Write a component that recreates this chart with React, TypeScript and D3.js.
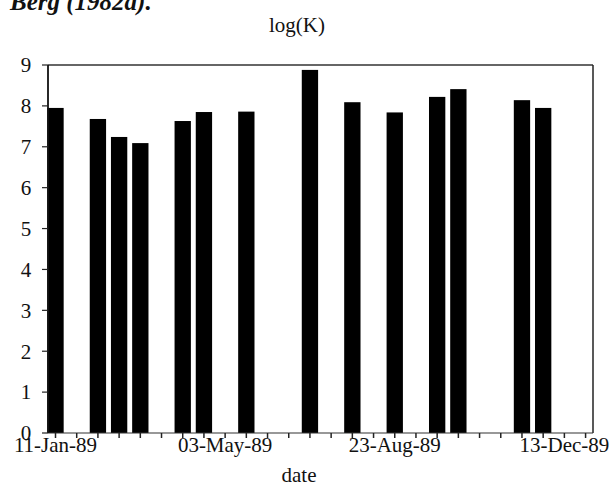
import React from "react";
import * as d3 from "d3";

const sampleDates = [
  "1989-01-11", "1989-02-08", "1989-02-22", "1989-03-08", "1989-04-05",
  "1989-04-19", "1989-05-17", "1989-06-28", "1989-07-26", "1989-08-23",
  "1989-09-20", "1989-10-04", "1989-11-15", "1989-11-29",
];
const logK = [7.95, 7.68, 7.24, 7.09, 7.63, 7.85, 7.86, 8.88, 8.09, 7.84, 8.22, 8.41, 8.14, 7.95];
const yTicks = [0, 1, 2, 3, 4, 5, 6, 7, 8, 9];
const xLabelDates = ["1989-01-11", "1989-05-03", "1989-08-23", "1989-12-13"];
const tickStart = "1989-01-11";
const tickCount = 26;
const tickStepDays = 14;

const W = 613;
const H = 485;
const FONT = "'Liberation Serif', 'Times New Roman', serif";

export default function App() {
  const parse = (s: string) => new Date(s + "T00:00:00Z");
  const start = parse(tickStart);
  const dayMs = 86400000;
  const x = d3
    .scaleUtc()
    .domain([
      new Date(start.getTime() - 0.354 * tickStepDays * dayMs),
      new Date(start.getTime() + 25.35 * tickStepDays * dayMs),
    ])
    .range([48, 593]);
  const y = d3.scaleLinear().domain([0, 9]).range([433, 65]);
  const halfBarDays = 0.385 * tickStepDays;
  const fmt = d3.utcFormat("%d-%b-%y");
  const ticks = d3.range(tickCount).map((i) => d3.utcDay.offset(start, i * tickStepDays));

  const left = x.range()[0];
  const right = x.range()[1];
  const top = y(9);
  const bottom = y(0);

  return (
    <svg width={W} height={H} style={{ position: "absolute", left: 0, top: 0, background: "#fff" }}>
      <rect x={0} y={0} width={W} height={H} fill="#fff" />
      <text x={10} y={10} fontFamily={FONT} fontStyle="italic" fontWeight="bold" fontSize={25} fill="#111">
        Berg (1982a).
      </text>
      <text x={297} y={32} textAnchor="middle" fontFamily={FONT} fontSize={21} fill="#111">
        log(K)
      </text>
      {sampleDates.map((d, i) => {
        const dt = parse(d);
        const x0 = x(new Date(dt.getTime() - halfBarDays * dayMs));
        const x1 = x(new Date(dt.getTime() + halfBarDays * dayMs));
        return (
          <rect key={d} x={x0} y={y(logK[i])} width={x1 - x0} height={bottom - y(logK[i])} fill="#000" />
        );
      })}
      <line x1={left} x2={right} y1={top} y2={top} stroke="#333" strokeWidth={1.5} />
      <line x1={right} x2={right} y1={top} y2={bottom} stroke="#222" strokeWidth={1.5} />
      <line x1={left} x2={right} y1={bottom} y2={bottom} stroke="#333" strokeWidth={1.2} />
      <line x1={left} x2={left} y1={top} y2={bottom} stroke="#111" strokeWidth={1.8} />
      {yTicks.map((t) => (
        <g key={t}>
          <line x1={left - 6} x2={left} y1={y(t)} y2={y(t)} stroke="#222" strokeWidth={1.2} />
          <text x={26} y={y(t)} dy="0.35em" textAnchor="middle" fontFamily={FONT} fontSize={21} fill="#111">
            {t}
          </text>
        </g>
      ))}
      {ticks.map((t, i) => (
        <line key={i} x1={x(t)} x2={x(t)} y1={bottom} y2={bottom + 5} stroke="#222" strokeWidth={1.5} />
      ))}
      {xLabelDates.map((d) => (
        <text key={d} x={x(parse(d))} y={452} textAnchor="middle" fontFamily={FONT} fontSize={21} fill="#111">
          {fmt(parse(d))}
        </text>
      ))}
      <text x={299} y={482} textAnchor="middle" fontFamily={FONT} fontSize={21} fill="#111">
        date
      </text>
    </svg>
  );
}
